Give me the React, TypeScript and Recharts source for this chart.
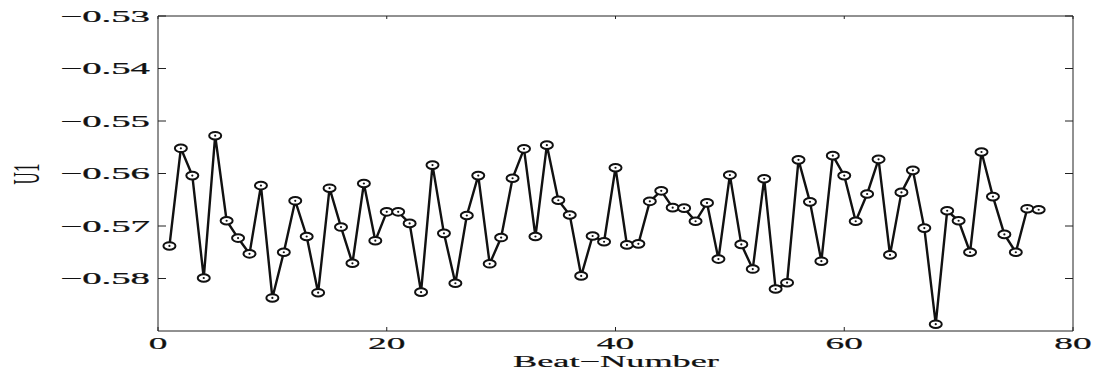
import { LineChart, Line, XAxis, YAxis } from "recharts"

// U1 amplitude per beat, beats 1..77
const u1Values = [
  -0.5738, -0.5552, -0.5604, -0.5799, -0.5528, -0.569, -0.5723, -0.5753, -0.5623, -0.5837,
  -0.575, -0.5652, -0.572, -0.5827, -0.5628, -0.5702, -0.5771, -0.5619, -0.5728, -0.5673,
  -0.5673, -0.5695, -0.5826, -0.5584, -0.5714, -0.5809, -0.568, -0.5604, -0.5772, -0.5722,
  -0.5609, -0.5553, -0.572, -0.5546, -0.5651, -0.5679, -0.5795, -0.5719, -0.573, -0.5589,
  -0.5736, -0.5734, -0.5653, -0.5633, -0.5665, -0.5666, -0.5691, -0.5656, -0.5763, -0.5603,
  -0.5735, -0.5782, -0.561, -0.582, -0.5808, -0.5574, -0.5654, -0.5767, -0.5566, -0.5604,
  -0.5691, -0.5639, -0.5573, -0.5755, -0.5636, -0.5594, -0.5704, -0.5887, -0.5671, -0.569,
  -0.575, -0.5559, -0.5644, -0.5716, -0.575, -0.5667, -0.5669,
]

const xTicks = [0, 20, 40, 60, 80]
const yTicks = [-0.58, -0.57, -0.56, -0.55, -0.54, -0.53]

const data = u1Values.map((u1, i) => ({ beat: i + 1, u1 }))

const FONT = "'Liberation Serif', 'Times New Roman', serif"
// the figure's lettering is wide, so stretch text horizontally
const STRETCH = 2.2

const fmtY = (v: number) => "\u2212" + Math.abs(v).toFixed(2)

const YTick = (props: any) => {
  const { x, y, payload } = props
  return (
    <g transform={`translate(${x},${y}) scale(2.35,1)`}>
      <text textAnchor="end" dy="0.36em" fontSize={16.5} fontFamily={FONT} fill="#111" stroke="#111" strokeWidth={0.25}>
        {fmtY(payload.value)}
      </text>
    </g>
  )
}

const XTick = (props: any) => {
  const { x, y, payload } = props
  return (
    <g transform={`translate(${x},${y + 22}) scale(${STRETCH},1)`}>
      <text textAnchor="middle" fontSize={17} fontFamily={FONT} fill="#111" stroke="#111" strokeWidth={0.2}>
        {payload.value}
      </text>
    </g>
  )
}

// frame axes only need their tick marks, no labels
const NoLabel = () => <g />

const Dot = (props: any) => {
  const { cx, cy, index } = props
  return (
    <g key={`d${index}`}>
      <ellipse cx={cx} cy={cy} rx={6} ry={3.8} fill="#fff" stroke="#111" strokeWidth={2} />
      <circle cx={cx} cy={cy} r={1.1} fill="#111" />
    </g>
  )
}

export default function App() {
  return (
    <div style={{ position: "absolute", left: 0, top: 0, background: "#fff" }}>
      <LineChart width={1099} height={371} data={data} margin={{ top: 15, right: 25, bottom: 0, left: 0 }}>
        <XAxis
          dataKey="beat"
          type="number"
          domain={[0, 80]}
          ticks={xTicks}
          height={40}
          stroke="#222"
          tickSize={-4}
          tickMargin={0}
          tick={XTick}
          label={{
            content: () => (
              <g transform={`translate(616,366.5) scale(${STRETCH},1)`}>
                <text textAnchor="middle" fontSize={16.5} fontFamily={FONT} fill="#111" stroke="#111" strokeWidth={0.2}>
                  Beat{"\u2212"}Number
                </text>
              </g>
            ),
          }}
        />
        <XAxis
          xAxisId="top"
          orientation="top"
          dataKey="beat"
          type="number"
          domain={[0, 80]}
          ticks={xTicks}
          height={1}
          stroke="#222"
          tickSize={-3}
          tick={NoLabel}
        />
        <YAxis
          type="number"
          domain={[-0.59, -0.53]}
          ticks={yTicks}
          width={158}
          stroke="#222"
          tickSize={-8}
          tickMargin={16}
          tick={YTick}
          allowDataOverflow
          label={{
            content: () => (
              <g transform={`translate(26,174) scale(${STRETCH},1) rotate(-90)`}>
                <text textAnchor="middle" dy="0.35em" fontSize={17} fontFamily={FONT} fill="#111">
                  U1
                </text>
              </g>
            ),
          }}
        />
        <YAxis
          yAxisId="right"
          orientation="right"
          type="number"
          domain={[-0.59, -0.53]}
          ticks={yTicks}
          width={1}
          stroke="#222"
          tickSize={-8}
          tick={NoLabel}
          allowDataOverflow
        />
        {/* invisible twin series so the top and right frame axes are drawn */}
        <Line
          xAxisId="top"
          yAxisId="right"
          dataKey="u1"
          stroke="none"
          dot={false}
          activeDot={false}
          legendType="none"
          isAnimationActive={false}
        />
        <Line
          dataKey="u1"
          stroke="#111"
          strokeWidth={2.4}
          dot={Dot}
          activeDot={false}
          isAnimationActive={false}
        />
      </LineChart>
    </div>
  )
}
